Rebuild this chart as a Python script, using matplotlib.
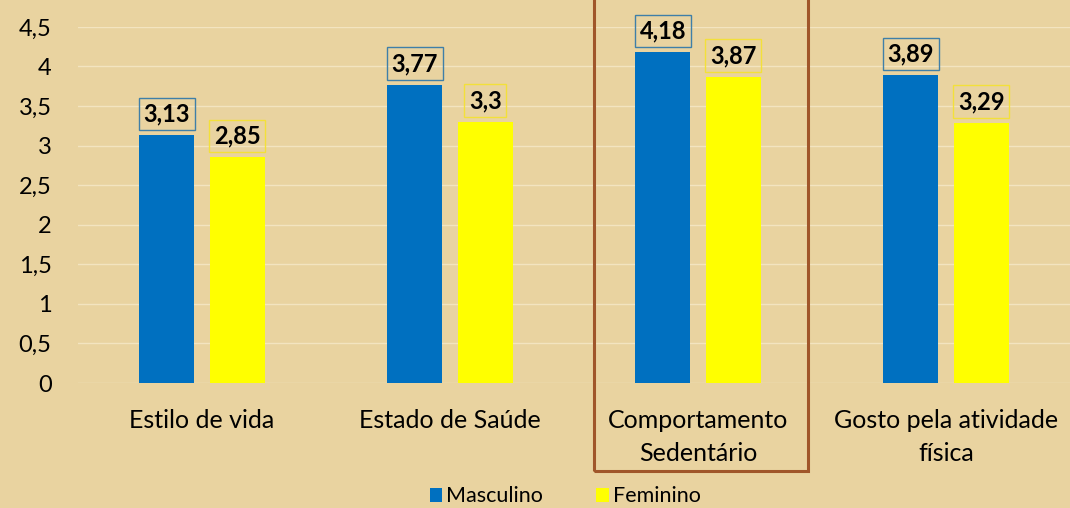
import numpy as np
import matplotlib.pyplot as plt
from matplotlib.patches import Rectangle
import matplotlib.transforms as mtransforms

plt.rcParams["font.family"] = ["Lato", "DejaVu Sans"]

categorias = ["Estilo de vida", "Estado de Saúde", "Comportamento\nSedentário", "Gosto pela atividade\nfísica"]
masculino = [3.13, 3.77, 4.18, 3.89]
feminino = [2.85, 3.30, 3.87, 3.29]
yticks = [0, 0.5, 1, 1.5, 2, 2.5, 3, 3.5, 4, 4.5]
destaque = 2  # categoria com moldura

fundo = "#E9D3A0"
azul = "#0070C0"
amarelo = "#FFFF00"


def fmt(v):
    s = f"{v:.2f}".rstrip("0").rstrip(".")
    return s.replace(".", ",")


def main():
    fig = plt.figure(figsize=(10.7, 5.08), dpi=100)
    fig.patch.set_facecolor(fundo)
    ax = fig.add_axes([0.0729, 0.246, 0.9271, 0.701])
    ax.set_facecolor("none")

    x = np.arange(len(categorias))
    w = 0.222
    off = 0.142
    b1 = ax.bar(x - off, masculino, w, color=azul, label="Masculino", zorder=3)
    b2 = ax.bar(x + off, feminino, w, color=amarelo, label="Feminino", zorder=3)

    # rótulos com moldura
    for bars, vals, borda in [(b1, masculino, "#3F7FA8"), (b2, feminino, "#F3E03A")]:
        for r, v in zip(bars, vals):
            ax.annotate(fmt(v), (r.get_x() + r.get_width() / 2, v),
                        xytext=(0, 7), textcoords="offset points",
                        ha="center", va="bottom", fontsize=17, fontweight="bold",
                        color="black", zorder=4,
                        bbox=dict(boxstyle="square,pad=0.2", fc="none", ec=borda, lw=1))

    ax.set_xlim(-0.5, len(categorias) - 0.5)
    ax.set_ylim(0, 4.5)
    ax.set_yticks(yticks)
    ax.set_yticklabels([fmt(t) for t in yticks], fontsize=17)
    ax.set_xticks(x)
    ax.set_xticklabels(categorias, fontsize=18, linespacing=1.5)
    ax.tick_params(length=0)
    ax.tick_params(axis="y", pad=19)
    ax.tick_params(axis="x", pad=19)
    ax.yaxis.grid(True, color="#F3E4C0", lw=1, zorder=0)
    for s in ax.spines.values():
        s.set_visible(False)

    # moldura em volta de "Comportamento Sedentário"
    trans = mtransforms.blended_transform_factory(ax.transData, fig.transFigure)
    ax.add_patch(Rectangle((destaque - 0.419, 0.073), 0.863, 0.94, transform=trans,
                           fill=False, ec="#A0562A", lw=2.2, clip_on=False, zorder=5))

    fig.legend(loc="lower center", bbox_to_anchor=(0.528, -0.035), ncol=2, frameon=False,
               fontsize=15.5, handlelength=0.6, handleheight=0.6, handletextpad=0.15,
               columnspacing=2.5)

    fig.savefig("out.png", dpi=100, facecolor=fundo)


if __name__ == "__main__":
    main()
